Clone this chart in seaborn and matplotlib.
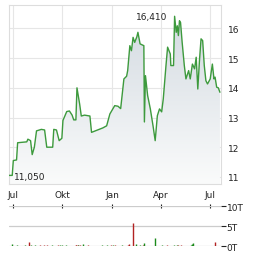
import numpy as np
import pandas as pd
import matplotlib
matplotlib.use("Agg")
import matplotlib.pyplot as plt
import matplotlib.dates as mdates
import seaborn as sns

# ---- data ----
price_dates = ["2023-06-24", "2023-06-30", "2023-07-02", "2023-07-08", "2023-07-10", "2023-07-27",
               "2023-07-29", "2023-08-03", "2023-08-06", "2023-08-10", "2023-08-14", "2023-08-23",
               "2023-08-29", "2023-09-02", "2023-09-13", "2023-09-15", "2023-09-20", "2023-09-25",
               "2023-09-30", "2023-10-02", "2023-10-09", "2023-10-14", "2023-10-19", "2023-10-22",
               "2023-10-26", "2023-10-28", "2023-11-02", "2023-11-05", "2023-11-11", "2023-11-21",
               "2023-11-24", "2023-12-15", "2023-12-22", "2023-12-28", "2024-01-06", "2024-01-12",
               "2024-01-17", "2024-01-23", "2024-01-28", "2024-01-30", "2024-02-03", "2024-02-06",
               "2024-02-09", "2024-02-12", "2024-02-16", "2024-02-18", "2024-02-22", "2024-02-29",
               "2024-03-01", "2024-03-03", "2024-03-07", "2024-03-12", "2024-03-17", "2024-03-21",
               "2024-03-25", "2024-03-29", "2024-04-02", "2024-04-05", "2024-04-10", "2024-04-13",
               "2024-04-18", "2024-04-19", "2024-04-24", "2024-04-26", "2024-04-29", "2024-05-01",
               "2024-05-03", "2024-05-05", "2024-05-07", "2024-05-10", "2024-05-14", "2024-05-17",
               "2024-05-22", "2024-05-25", "2024-05-29", "2024-06-02", "2024-06-05", "2024-06-08",
               "2024-06-11", "2024-06-14", "2024-06-17", "2024-06-20", "2024-06-23", "2024-06-26",
               "2024-07-01", "2024-07-05", "2024-07-08", "2024-07-10", "2024-07-13", "2024-07-16",
               "2024-07-19"]
prices = [11.05, 11.05, 11.55, 11.57, 12.15, 12.18,
          12.27, 12.22, 11.75, 12.0, 12.55, 12.6,
          12.58, 12.0, 12.0, 12.6, 12.58, 12.22,
          12.3, 12.9, 13.2, 13.22, 13.08, 12.92,
          12.92, 14.0, 13.45, 13.05, 13.08, 13.05,
          12.5, 12.65, 12.72, 13.12, 13.4, 13.38,
          13.3, 14.3, 14.39, 14.58, 15.42, 15.25,
          15.7, 15.53, 15.72, 15.87, 15.48, 15.42,
          12.85, 14.41, 13.74, 13.29, 12.72, 12.22,
          13.06, 13.29, 13.19, 13.63, 14.75, 15.37,
          15.14, 14.75, 14.75, 16.41, 15.87, 16.09,
          15.76, 16.26, 16.2, 15.53, 14.75, 14.3,
          14.58, 14.3, 14.8, 14.64, 15.03, 13.96,
          14.9, 15.65, 15.59, 14.75, 14.24, 14.13,
          14.3, 14.8, 14.3, 14.36, 14.02, 14.0,
          13.85]

vol_dates = ["2023-06-30", "2023-07-08", "2023-07-23", "2023-07-31", "2023-08-03", "2023-08-11",
             "2023-08-21", "2023-08-27", "2023-09-02", "2023-09-11", "2023-09-23", "2023-09-26",
             "2023-09-30", "2023-10-07", "2023-10-26", "2023-10-27", "2023-10-29", "2023-10-30",
             "2023-11-02", "2023-11-08", "2023-11-18", "2023-12-14", "2023-12-22", "2023-12-30",
             "2024-01-02", "2024-01-07", "2024-01-20", "2024-01-30", "2024-02-01", "2024-02-09",
             "2024-02-14", "2024-02-22", "2024-02-28", "2024-03-01", "2024-03-21", "2024-04-02",
             "2024-04-11", "2024-04-24", "2024-04-30", "2024-05-02", "2024-05-08", "2024-05-27",
             "2024-05-29", "2024-05-30", "2024-07-09"]
volumes = [0.5, 0.3, 0.3, 1.1, 0.3, 0.3,
           0.3, 0.3, 0.3, 0.3, 0.3, 0.3,
           0.3, 0.3, 0.3, 0.3, 0.3, 0.3,
           0.3, 0.6, 0.3, 0.3, 0.3, 0.3,
           0.3, 0.3, 0.3, 0.3, 0.6, 5.8,
           0.5, 0.3, 0.3, 0.9, 2.1, 0.3,
           0.3, 0.3, 0.3, 0.3, 0.3, 0.4,
           0.6, 0.8, 1.2]
vol_up = [1, 1, 1, 0, 1, 1,
          0, 0, 0, 1, 0, 1,
          1, 1, 0, 0, 0, 1,
          0, 1, 0, 1, 1, 0,
          1, 0, 1, 0, 0, 0,
          1, 1, 0, 1, 1, 1,
          0, 1, 1, 0, 0, 1,
          1, 1, 0]

month_ticks = ["2023-07-01", "2023-10-01", "2024-01-01", "2024-04-01", "2024-07-01"]
month_labels = ["Jul", "Okt", "Jan", "Apr", "Jul"]
price_ticks = [11, 12, 13, 14, 15, 16]
vol_ticks = [0, 5, 10]
vol_labels = ["0T", "5T", "10T"]
hi_label, lo_label = "16,410", "11,050"

# ---- figure ----
sns.set_theme(style="white")
plt.rcParams['font.family'] = ['DejaVu Sans']

W, H = 264, 255
fig = plt.figure(figsize=(W / 100, H / 100), dpi=100)
ax = fig.add_axes([9 / W, (H - 185) / H, 212 / W, 179 / H])
ax2 = fig.add_axes([9 / W, (H - 247.3) / H, 212 / W, 40 / H])

df = pd.DataFrame({"date": pd.to_datetime(price_dates), "price": prices})
xmin, xmax = pd.Timestamp("2023-06-24"), pd.Timestamp("2024-07-21")
ymin, ymax = 10.76, 16.79

ax.set_xlim(xmin, xmax)
ax.set_ylim(ymin, ymax)

# gradient fill under the line
poly = ax.fill_between(df["date"], df["price"], ymin, color="none", lw=0)
grad = np.linspace(0, 1, 256).reshape(-1, 1)
cmap = matplotlib.colors.LinearSegmentedColormap.from_list("g", ["#fafbfb", "#d3dae1"])
img = ax.imshow(grad, aspect="auto", cmap=cmap, origin="lower",
                extent=[mdates.date2num(xmin), mdates.date2num(xmax), ymin, 16.5], zorder=1)
img.set_clip_path(poly.get_paths()[0], transform=ax.transData)
ax.set_xlim(xmin, xmax)
ax.set_ylim(ymin, ymax)

sns.lineplot(data=df, x="date", y="price", ax=ax, color="#3d9a3d", lw=1.0, zorder=3)

ax.set_xticks(pd.to_datetime(month_ticks))
ax.set_xticklabels(month_labels)
ax.set_yticks(price_ticks)
ax.set_yticklabels([str(t) for t in price_ticks])
ax.yaxis.tick_right()
ax.tick_params(axis="both", length=0, labelsize=6.5, colors="#222222")
ax.tick_params(axis="y", pad=5)
ax.tick_params(axis="x", pad=4)
ax.grid(True, color="#e6e6e6", lw=0.8)
ax.set_axisbelow(True)
for s in ax.spines.values():
    s.set_color("#dddddd")
    s.set_linewidth(0.8)
ax.set_xlabel("")
ax.set_ylabel("")

ihi = int(np.argmax(prices))
ilo = int(np.argmin(prices))
ax.annotate(hi_label, (df["date"][ihi], prices[ihi]), xytext=(-5, -0.5), textcoords="offset points",
            ha="right", va="center", fontsize=6.5, color="#222222", zorder=4)
ax.annotate(lo_label, (df["date"][ilo], prices[ilo]), xytext=(3.5, -0.5), textcoords="offset points",
            ha="left", va="center", fontsize=6.5, color="#222222", zorder=4)

# volume panel
vd = pd.to_datetime(vol_dates)
cols = ["#1a8a1a" if u else "#b22222" for u in vol_up]
ax2.vlines(vd, 0, volumes, colors=cols, lw=1.0, zorder=3)
ax2.set_xlim(xmin, xmax)
ax2.set_ylim(0, 10)
for s in ax2.spines.values():
    s.set_visible(False)
ax2.set_yticks(vol_ticks)
ax2.set_yticklabels(vol_labels)
ax2.yaxis.tick_right()
ax2.tick_params(axis="y", length=3.5, width=0.8, color="#222222", labelsize=6.5, colors="#222222", pad=0.5)
ax2.grid(True, axis="y", color="#cccccc", lw=0.9)
ax2.set_axisbelow(True)
ax2.xaxis.tick_top()
ax2.set_xticks(pd.to_datetime(month_ticks))
ax2.tick_params(axis="x", direction="inout", length=3, width=0.8, color="#222222", labeltop=False, labelbottom=False)

fig.savefig("out.png", dpi=100)
